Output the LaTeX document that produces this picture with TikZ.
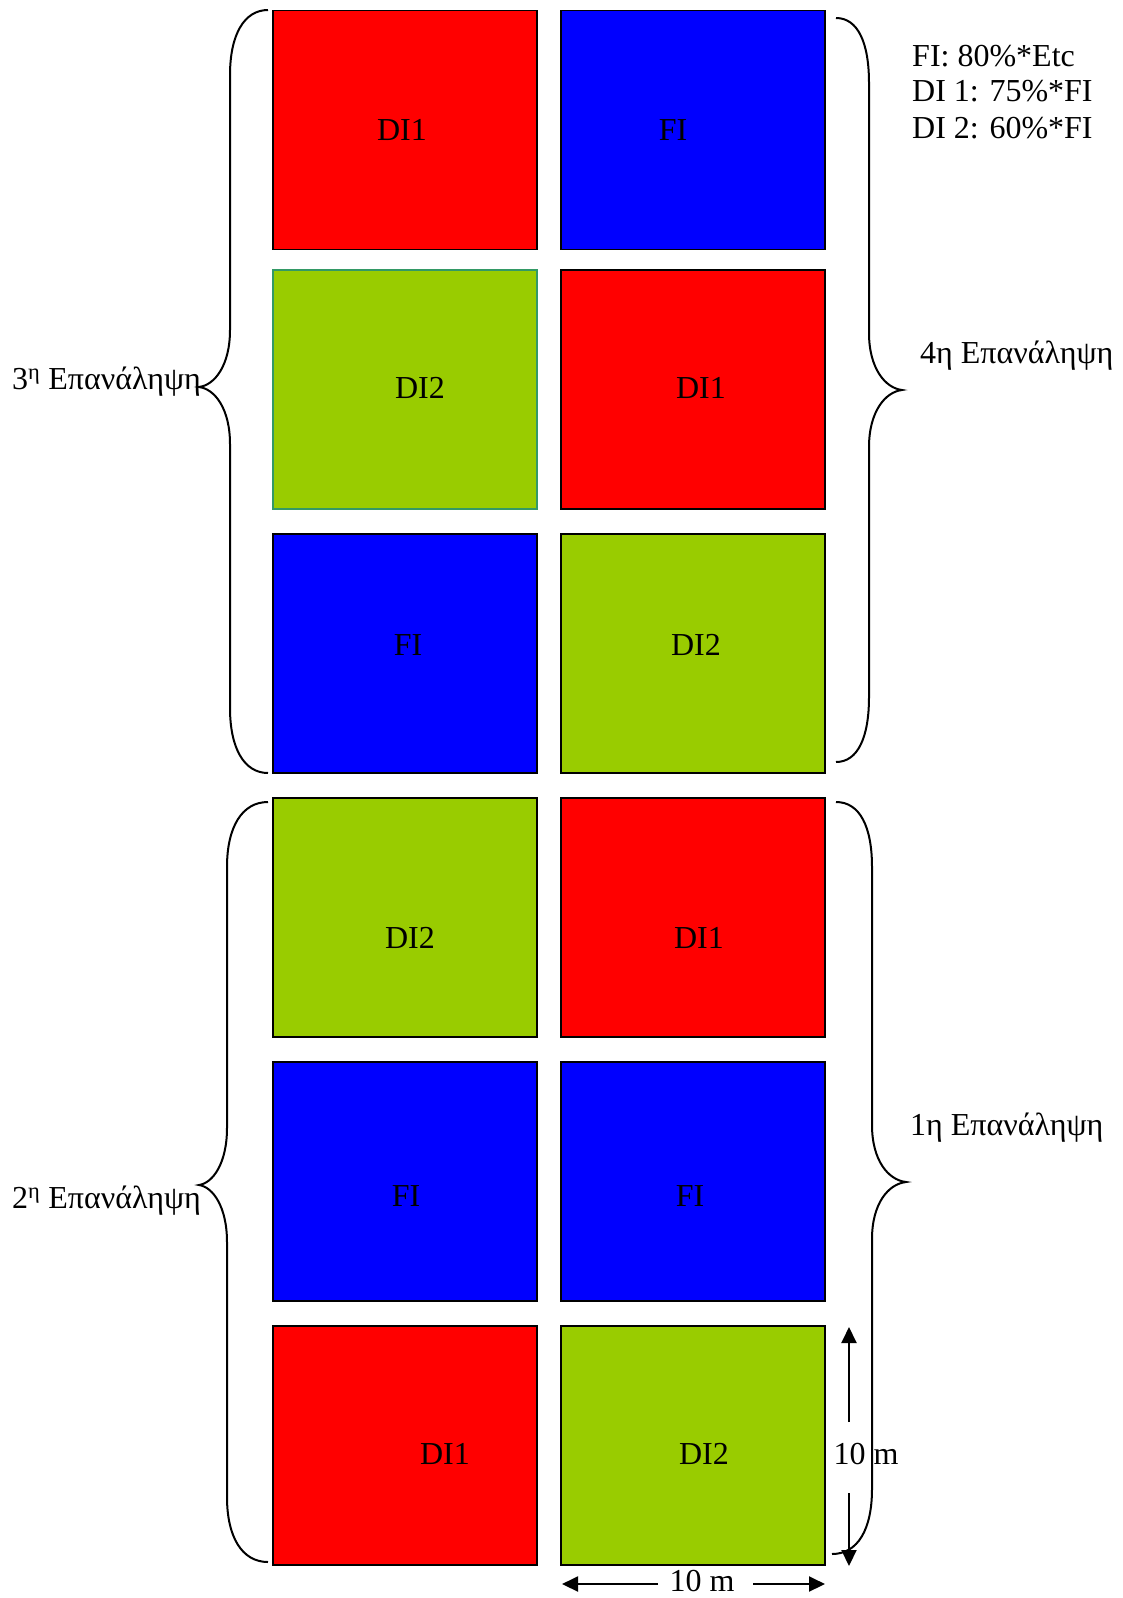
\documentclass[tikz,border=0pt]{standalone}
\usepackage{fontspec}
\setmainfont{Liberation Serif}
\usetikzlibrary{arrows.meta}
\definecolor{plotred}{HTML}{FF0000}
\definecolor{plotblue}{HTML}{0000FF}
\definecolor{plotgreen}{HTML}{99CC00}
\definecolor{edgeteal}{HTML}{339966}

\begin{document}
\begin{tikzpicture}[x=1pt,y=-1pt,
	plot/.style={draw=black, line width=1.5pt},
	lbl/.style={font=\fontsize{32}{36}\selectfont, inner sep=0pt},
	brace/.style={line width=2pt},
	dim/.style={line width=2pt, -{Triangle[length=16pt,width=15pt]}}]
	
	\useasboundingbox (0,0) rectangle (1123,1598);
	
	% Αριστερή στήλη τεμαχίων
	\draw[plot, fill=plotred]   (273,10.5) rectangle (537,249.5);
	\draw[plot, fill=plotgreen, draw=edgeteal] (273,270) rectangle (537,509);
	\draw[plot, fill=plotblue]  (273,534)  rectangle (537,773);
	\draw[plot, fill=plotgreen] (273,798)  rectangle (537,1037);
	\draw[plot, fill=plotblue]  (273,1062) rectangle (537,1301);
	\draw[plot, fill=plotred]   (273,1326) rectangle (537,1565);
	
	% Δεξιά στήλη τεμαχίων
	\draw[plot, fill=plotblue]  (561,10.5) rectangle (825,249.5);
	\draw[plot, fill=plotred]   (561,270)  rectangle (825,509);
	\draw[plot, fill=plotgreen] (561,534)  rectangle (825,773);
	\draw[plot, fill=plotred]   (561,798)  rectangle (825,1037);
	\draw[plot, fill=plotblue]  (561,1062) rectangle (825,1301);
	\draw[plot, fill=plotgreen] (561,1326) rectangle (825,1565);
	
	% Μεταχειρίσεις
	\node[lbl] (l1) at (402,130)  {DI1};
	\node[lbl] (l2) at (420,388)  {DI2};
	\node[lbl] (l3) at (408,645)  {FI};
	\node[lbl] (l4) at (410,938)  {DI2};
	\node[lbl] (l5) at (406,1196) {FI};
	\node[lbl] (l6) at (445,1454) {DI1};
	\node[lbl] (r1) at (673,130)  {FI};
	\node[lbl] (r2) at (701,388)  {DI1};
	\node[lbl] (r3) at (696,645)  {DI2};
	\node[lbl] (r4) at (699,938)  {DI1};
	\node[lbl] (r5) at (690,1196) {FI};
	\node[lbl] (r6) at (704,1454) {DI2};
	
	% Άγκιστρα επαναλήψεων
	\draw[brace] (268,10) .. controls (244,10) and (230,35) .. (230,75)
		-- (230,330) .. controls (230,365) and (215,385) .. (199,387)
		.. controls (215,389) and (230,409) .. (230,444)
		-- (230,708) .. controls (230,748) and (244,773) .. (268,773);
	\draw[brace] (268,802) .. controls (242,802) and (227,827) .. (227,867)
		-- (227,1128) .. controls (227,1163) and (213,1183) .. (199,1185)
		.. controls (213,1187) and (227,1207) .. (227,1242)
		-- (227,1497) .. controls (227,1537) and (242,1562) .. (268,1562);
	\draw[brace] (836,18) .. controls (858,18) and (869,43) .. (869,83)
		-- (869,333) .. controls (869,368) and (885,388) .. (902,390)
		.. controls (885,392) and (869,412) .. (869,447)
		-- (869,697) .. controls (869,737) and (858,762) .. (836,762);
	\draw[brace] (836,802) .. controls (860,802) and (872,827) .. (872,867)
		-- (872,1125) .. controls (872,1160) and (888,1180) .. (906,1182)
		.. controls (888,1184) and (872,1204) .. (872,1239)
		-- (872,1489) .. controls (872,1529) and (858,1554) .. (832,1554);
	
	\node[lbl, anchor=base west] (rep3) at (12,389)  {3\textsuperscript{η} Επανάληψη};
	\node[lbl, anchor=base west] (rep2) at (12,1208) {2\textsuperscript{η} Επανάληψη};
	\node[lbl, anchor=base west] (rep4) at (920,363)  {4η Επανάληψη};
	\node[lbl, anchor=base west] (rep1) at (910,1135) {1η Επανάληψη};
	
	% Υπόμνημα
	\node[lbl, anchor=base west] (key1) at (912,66)  {FI: 80\%*Etc};
	\node[lbl, anchor=base west] (key2) at (912,101) {DI 1: 75\%*FI};
	\node[lbl, anchor=base west] (key3) at (912,138) {DI 2: 60\%*FI};
	
	% Διαστάσεις
	\node[lbl] (vlen) at (866,1454) {10 m};
	\coordinate (vtop) at (849,1327);
	\coordinate (vbot) at (849,1566);
	\coordinate (vgapt) at (849,1422);
	\coordinate (vgapb) at (849,1493);
	\draw[dim] (vgapt) -- (vtop);
	\draw[dim] (vgapb) -- (vbot);
	
	\node[lbl] (hlen) at (702,1581) {10 m};
	\coordinate (hleft) at (562,1584);
	\coordinate (hright) at (825,1584);
	\coordinate (hgapl) at (658,1584);
	\coordinate (hgapr) at (753,1584);
	\draw[dim] (hgapl) -- (hleft);
	\draw[dim] (hgapr) -- (hright);
	
\end{tikzpicture}
\end{document}
